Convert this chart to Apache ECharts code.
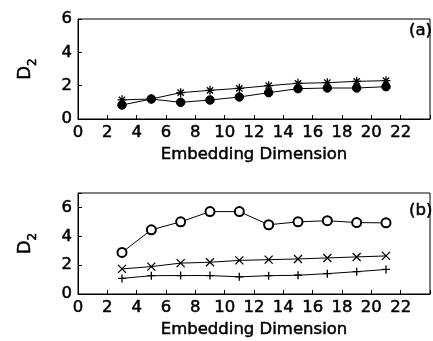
<!DOCTYPE html>
<html>
<head>
<meta charset="utf-8">
<script src="https://cdn.jsdelivr.net/npm/echarts@6/dist/echarts.min.js"></script>
<style>
html,body{margin:0;padding:0;background:#fff;}
#c{width:433px;height:341px;}
</style>
</head>
<body>
<div id="c"></div>
<script>
// Embedding dimension (x) values
const dims = [3, 5, 7, 9, 11, 13, 15, 17, 19, 21];
// Panel (a)
const aStar   = [1.15, 1.2, 1.58, 1.72, 1.84, 2.0, 2.14, 2.18, 2.26, 2.3];
const aCircle = [0.84, 1.2, 1.0, 1.14, 1.32, 1.58, 1.82, 1.86, 1.86, 1.94];
// Panel (b)
const bCircle = [2.88, 4.45, 5.0, 5.71, 5.71, 4.8, 5.0, 5.08, 4.95, 4.93];
const bCross  = [1.74, 1.9, 2.14, 2.2, 2.33, 2.38, 2.43, 2.5, 2.57, 2.64];
const bPlus   = [1.08, 1.27, 1.28, 1.28, 1.19, 1.27, 1.3, 1.41, 1.55, 1.7];
// Tick labels
const xTicks = [0, 2, 4, 6, 8, 10, 12, 14, 16, 18, 20, 22];
const yTicks = [0, 2, 4, 6];

const pair = arr => dims.map((d, i) => [d, arr[i]]);
const FONT = 'DejaVu Sans';
const FS = 16.5;
const TB = {textBorderColor: '#000', textBorderWidth: 0.5};

const STAR = 'path://M5 0L5 10M0 5L10 5M1.5 1.5L8.5 8.5M1.5 8.5L8.5 1.5';
const CROSS = 'path://M0 0L10 10M0 10L10 0';
const PLUS = 'path://M5 0L5 10M0 5L10 5';

function xAxis(gi) {
  return {
    gridIndex: gi, type: 'value', min: 0, max: 24, interval: 2,
    axisLine: {lineStyle: {color: '#000', width: 1}},
    axisTick: {inside: true, length: 4, lineStyle: {color: '#000'}},
    axisLabel: Object.assign({color: '#000', fontFamily: FONT, fontSize: FS, margin: 5,
      formatter: v => xTicks.indexOf(v) >= 0 ? String(v) : ''}, TB),
    splitLine: {show: false},
    name: 'Embedding Dimension', nameLocation: 'middle', nameGap: 27,
    nameTextStyle: Object.assign({color: '#000', fontFamily: FONT, fontSize: FS}, TB)
  };
}
function yAxis(gi, max) {
  return {
    gridIndex: gi, type: 'value', min: 0, max: max, interval: 2,
    axisLine: {show: true, lineStyle: {color: '#000', width: 1}},
    axisTick: {show: true, inside: true, length: 4, lineStyle: {color: '#000'}},
    axisLabel: Object.assign({color: '#000', fontFamily: FONT, fontSize: FS, margin: 6,
      formatter: v => yTicks.indexOf(v) >= 0 ? String(v) : ''}, TB),
    splitLine: {show: false},
    name: '{d|D}{s|2}', nameLocation: 'middle', nameGap: 44, nameRotate: 90,
    nameTextStyle: {
      color: '#000', fontFamily: FONT,
      rich: {
        d: Object.assign({fontFamily: FONT, fontSize: 18, color: '#000', lineHeight: 20, verticalAlign: 'bottom'}, TB),
        s: Object.assign({fontFamily: FONT, fontSize: 12, color: '#000', lineHeight: 12, verticalAlign: 'bottom', padding: [0, 0, -5, 0]}, TB)
      }
    }
  };
}
function series(xi, data, symbol, size, bw) {
  return {
    type: 'line', xAxisIndex: xi, yAxisIndex: xi, data: pair(data),
    symbol: symbol, symbolSize: size, showSymbol: true,
    lineStyle: {color: '#000', width: 1},
    itemStyle: {color: '#000', borderColor: '#000', borderWidth: bw},
    animation: false
  };
}
const panelTitle = (t, left, top) => ({
  text: t, left: left, top: top, padding: 0,
  textStyle: Object.assign({color: '#000', fontFamily: FONT, fontSize: FS, fontWeight: 'normal'}, TB)
});

const chart = echarts.init(document.getElementById('c'), null, {renderer: 'canvas'});
chart.setOption({
  backgroundColor: '#fff',
  animation: false,
  title: [panelTitle('(a)', 409, 22), panelTitle('(b)', 409, 202)],
  grid: [
    {left: 78, top: 19, width: 372, height: 100, show: true, borderColor: '#000', borderWidth: 1, backgroundColor: 'transparent'},
    {left: 78, top: 193, width: 372, height: 101, show: true, borderColor: '#000', borderWidth: 1, backgroundColor: 'transparent'}
  ],
  xAxis: [xAxis(0), xAxis(1)],
  yAxis: [yAxis(0, 6), yAxis(1, 7)],
  series: [
    series(0, aCircle, 'circle', 8.5, 1),
    series(0, aStar, STAR, 9, 1.3),
    series(1, bCircle, 'emptyCircle', 9, 1),
    series(1, bCross, CROSS, 8, 1.3),
    series(1, bPlus, PLUS, 8, 1.3)
  ]
});
</script>
</body>
</html>
